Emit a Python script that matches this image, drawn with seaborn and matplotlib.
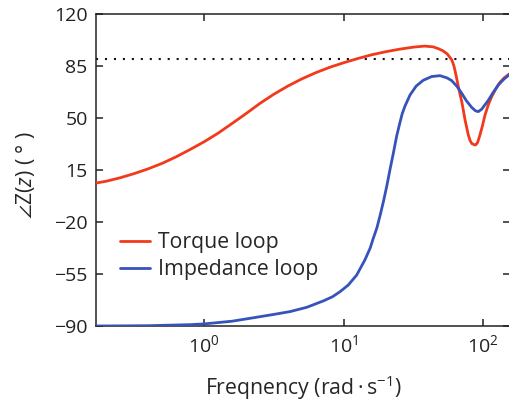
import numpy as np
import pandas as pd
import matplotlib
matplotlib.use("Agg")
import matplotlib.pyplot as plt
import seaborn as sns

# ---- data (frequency in rad/s, phase in degrees) ----
torque_freq = [0.168, 0.2, 0.251, 0.316, 0.398, 0.501, 0.631, 0.794, 1.0, 1.26, 1.58,
               2.0, 2.51, 3.16, 3.98, 5.01, 6.31, 7.94, 10.0, 12.6, 15.8, 20.0, 25.1,
               31.6, 38.0, 43.7, 47.9, 51.3, 55.0, 57.5, 59.6, 61.7, 63.1, 64.6, 66.4,
               68.2, 70.2, 72.1, 74.1, 76.2, 78.2, 80.4, 82.8, 85.5, 88.1, 91.2, 94.8,
               98.9, 103.0, 108.9, 115.1, 123.0, 131.8, 141.3, 155.6]
torque_phase = [6.2, 7.5, 9.8, 12.6, 15.8, 19.5, 23.9, 28.8, 34.0, 39.8, 46.2,
                53.0, 59.8, 66.0, 71.5, 76.3, 80.5, 84.1, 87.2, 90.0, 92.5, 94.6, 96.3,
                97.7, 98.4, 97.9, 96.6, 95.3, 93.3, 91.0, 89.0, 85.0, 81.0, 76.5, 71.0,
                66.0, 61.0, 55.0, 48.7, 43.5, 38.6, 35.0, 32.8, 32.2, 31.8, 33.5, 38.6,
                45.0, 52.0, 59.0, 64.4, 69.5, 74.0, 77.0, 80.0]

imp_freq = [0.168, 0.398, 0.794, 1.0, 1.58, 2.14, 3.16, 4.13, 5.45, 7.16, 8.32, 9.42,
            10.8, 12.4, 14.2, 15.5, 16.3, 17.3, 18.2, 19.3, 20.4, 21.5, 22.7, 24.0, 25.4,
            26.3, 27.5, 29.9, 33.1, 37.2, 42.7, 49.0, 55.0, 59.4, 64.6, 70.2, 75.9, 82.6,
            88.1, 92.3, 97.7, 108.9, 117.5, 128.2, 141.3, 155.6]
imp_phase = [-90.0, -89.8, -89.1, -88.6, -86.8, -84.8, -82.2, -80.3, -77.4, -73.1, -70.3, -66.9,
             -62.4, -55.7, -45.5, -37.5, -31.0, -24.0, -16.0, -6.0, 4.5, 15.5, 26.3, 38.0,
             47.5, 53.0, 58.0, 65.5, 71.5, 75.4, 77.9, 78.5, 77.0, 75.2, 71.5, 66.6, 61.5,
             57.2, 54.8, 54.3, 56.0, 62.0, 67.0, 72.2, 76.3, 79.5]

series_names = ["Torque loop", "Impedance loop"]
series_colors = ["#F2391B", "#3553BA"]
y_ticks = [-90, -55, -20, 15, 50, 85, 120]
x_ticks = [1, 10, 100]
x_tick_labels = ["10$^{0}$", "10$^{1}$", "10$^{2}$"]
ref_level = 90

df = pd.concat([
    pd.DataFrame({"freq": torque_freq, "phase": torque_phase, "loop": series_names[0]}),
    pd.DataFrame({"freq": imp_freq, "phase": imp_phase, "loop": series_names[1]}),
], ignore_index=True)

sns.set_style("ticks")
plt.rcParams["font.family"] = ["Open Sans", "DejaVu Sans"]
plt.rcParams["mathtext.fontset"] = "custom"
plt.rcParams["mathtext.rm"] = "Open Sans"
plt.rcParams["mathtext.it"] = "Open Sans:italic"
plt.rcParams["mathtext.fallback"] = "stixsans"

W, H = 509, 403
fig = plt.figure(figsize=(W / 100, H / 100), dpi=100)
ax = fig.add_axes([96 / W, 77 / H, (510 - 96) / W, 312 / H])

ax.axhline(ref_level, color="#111111", lw=1.5, ls=(0, (1, 3.3)), zorder=1)
sns.lineplot(data=df, x="freq", y="phase", hue="loop", palette=series_colors,
             hue_order=series_names, lw=2.0, ax=ax, sort=False, zorder=3)

ax.set_xscale("log")
ax.set_xlim(0.168, 155.6)
ax.set_ylim(-90, 120)
ax.set_yticks(y_ticks)
ax.set_yticklabels([str(v).replace("-", "\u2212") for v in y_ticks])
ax.set_xticks(x_ticks)
ax.set_xticklabels(x_tick_labels)
ax.xaxis.set_minor_locator(matplotlib.ticker.NullLocator())

ax.tick_params(direction="in", length=5, width=1.1, colors="#222222",
               labelsize=14, top=True, right=True, pad=6)
for s in ax.spines.values():
    s.set_linewidth(1.1)
    s.set_color("#222222")

ax.set_xlabel("Freqnency (rad\u2009\u00b7\u2009s$^{\u22121}$)", fontsize=15.3, labelpad=12)
ax.set_ylabel("$\\angle$Z($\\it{z}$) ( \u00b0 )", fontsize=15.3)
ax.yaxis.set_label_coords(-0.1425, 0.484)

leg = ax.legend(loc="upper left", bbox_to_anchor=(0.058, 0.30), frameon=False,
                fontsize=15.3, handlelength=1.41, handletextpad=0.38, labelspacing=0.27,
                borderaxespad=0.0, borderpad=0.0)

fig.savefig("out.png", dpi=100)
